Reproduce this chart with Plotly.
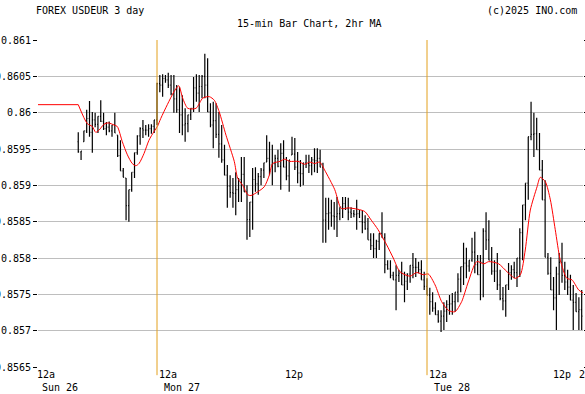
import pandas as pd
import plotly.graph_objects as go

# ---------------- data ----------------
bar_start = "2025-10-26 17:00"
n_bars = 180

highs = [0.85973,0.85947,0.85975,0.86004,0.86016,0.86001,0.86000,0.85995,0.86017,0.86000,
         0.85987,0.85988,0.85983,0.86000,0.85969,0.85962,0.85924,0.85910,0.85894,0.85918,
         0.85945,0.85969,0.85980,0.85990,0.85983,0.85984,0.85984,0.85990,0.86041,0.86052,
         0.86053,0.86052,0.86055,0.86052,0.86052,0.86038,0.86035,0.86024,0.86006,0.85997,
         0.86006,0.86049,0.86053,0.86052,0.86052,0.86081,0.86075,0.86013,0.86015,0.86013,
         0.86001,0.85983,0.85956,0.85928,0.85914,0.85910,0.85918,0.85910,0.85939,0.85939,
         0.85900,0.85877,0.85924,0.85925,0.85917,0.85924,0.85931,0.85969,0.85960,0.85956,
         0.85942,0.85949,0.85958,0.85962,0.85939,0.85935,0.85967,0.85965,0.85946,0.85935,
         0.85931,0.85942,0.85942,0.85939,0.85951,0.85951,0.85949,0.85931,0.85883,0.85883,
         0.85880,0.85877,0.85884,0.85870,0.85884,0.85884,0.85883,0.85870,0.85866,0.85880,
         0.85866,0.85866,0.85859,0.85855,0.85834,0.85834,0.85825,0.85834,0.85863,0.85834,
         0.85797,0.85797,0.85781,0.85790,0.85784,0.85795,0.85781,0.85779,0.85790,0.85807,
         0.85800,0.85795,0.85797,0.85781,0.85772,0.85759,0.85753,0.85739,0.85728,0.85728,
         0.85739,0.85742,0.85749,0.85752,0.85753,0.85779,0.85788,0.85821,0.85814,0.85797,
         0.85828,0.85836,0.85804,0.85804,0.85841,0.85863,0.85852,0.85815,0.85797,0.85807,
         0.85784,0.85760,0.85763,0.85793,0.85790,0.85795,0.85800,0.85841,0.85873,0.85903,
         0.85967,0.86015,0.86000,0.85993,0.85972,0.85935,0.85907,0.85807,0.85801,0.85774,
         0.85788,0.85807,0.85821,0.85795,0.85784,0.85777,0.85763,0.85752,0.85746,0.85756]

lows = [0.85945,0.85935,0.85960,0.85972,0.85967,0.85945,0.85980,0.85972,0.85987,0.85976,
        0.85969,0.85973,0.85967,0.85972,0.85939,0.85920,0.85911,0.85852,0.85850,0.85891,
        0.85910,0.85942,0.85956,0.85965,0.85969,0.85967,0.85971,0.85972,0.85983,0.86028,
        0.86022,0.86041,0.86034,0.86024,0.86000,0.86000,0.85972,0.85969,0.85960,0.85973,
        0.85990,0.86001,0.86015,0.86001,0.86020,0.86020,0.86001,0.85980,0.85951,0.85965,
        0.85938,0.85931,0.85914,0.85869,0.85883,0.85869,0.85859,0.85877,0.85877,0.85891,
        0.85825,0.85829,0.85839,0.85891,0.85887,0.85900,0.85910,0.85932,0.85914,0.85900,
        0.85918,0.85925,0.85894,0.85925,0.85907,0.85891,0.85942,0.85921,0.85903,0.85898,
        0.85900,0.85924,0.85917,0.85914,0.85918,0.85917,0.85925,0.85821,0.85821,0.85839,
        0.85843,0.85839,0.85829,0.85852,0.85855,0.85866,0.85852,0.85855,0.85856,0.85839,
        0.85855,0.85834,0.85839,0.85825,0.85811,0.85800,0.85800,0.85811,0.85828,0.85779,
        0.85784,0.85772,0.85770,0.85728,0.85767,0.85763,0.85739,0.85756,0.85766,0.85772,
        0.85774,0.85779,0.85770,0.85756,0.85749,0.85722,0.85726,0.85722,0.85711,0.85698,
        0.85701,0.85712,0.85722,0.85722,0.85726,0.85739,0.85753,0.85763,0.85772,0.85781,
        0.85795,0.85779,0.85777,0.85742,0.85746,0.85811,0.85797,0.85777,0.85767,0.85756,
        0.85742,0.85728,0.85719,0.85756,0.85770,0.85772,0.85760,0.85774,0.85797,0.85852,
        0.85880,0.85962,0.85939,0.85949,0.85921,0.85880,0.85801,0.85777,0.85756,0.85728,
        0.85701,0.85749,0.85766,0.85756,0.85749,0.85742,0.85701,0.85726,0.85701,0.85701]

closes = [0.85946,0.85947,0.85975,0.85992,0.85973,0.85990,0.85984,0.85995,0.85988,0.85978,
          0.85980,0.85975,0.85983,0.85972,0.85941,0.85920,0.85911,0.85872,0.85894,0.85918,
          0.85945,0.85968,0.85978,0.85976,0.85976,0.85978,0.85981,0.85990,0.86040,0.86038,
          0.86047,0.86045,0.86038,0.86026,0.86019,0.86004,0.85997,0.85983,0.85985,0.85997,
          0.86006,0.86034,0.86027,0.86036,0.86050,0.86038,0.86001,0.85983,0.85989,0.85970,
          0.85957,0.85935,0.85914,0.85899,0.85890,0.85889,0.85894,0.85908,0.85915,0.85891,
          0.85853,0.85877,0.85908,0.85902,0.85912,0.85921,0.85931,0.85937,0.85928,0.85930,
          0.85937,0.85926,0.85944,0.85925,0.85913,0.85935,0.85943,0.85925,0.85917,0.85916,
          0.85931,0.85930,0.85927,0.85935,0.85934,0.85937,0.85925,0.85852,0.85861,0.85862,
          0.85858,0.85857,0.85861,0.85870,0.85875,0.85868,0.85863,0.85861,0.85860,0.85861,
          0.85850,0.85849,0.85840,0.85825,0.85817,0.85813,0.85823,0.85834,0.85828,0.85791,
          0.85785,0.85776,0.85770,0.85776,0.85779,0.85763,0.85768,0.85778,0.85790,0.85787,
          0.85787,0.85784,0.85770,0.85761,0.85749,0.85740,0.85731,0.85722,0.85713,0.85720,
          0.85727,0.85736,0.85737,0.85740,0.85753,0.85771,0.85788,0.85793,0.85789,0.85797,
          0.85808,0.85791,0.85777,0.85794,0.85837,0.85825,0.85797,0.85782,0.85782,0.85763,
          0.85744,0.85741,0.85763,0.85780,0.85784,0.85780,0.85800,0.85835,0.85873,0.85903,
          0.85967,0.85970,0.85971,0.85949,0.85921,0.85880,0.85801,0.85779,0.85756,0.85745,
          0.85778,0.85794,0.85776,0.85767,0.85760,0.85742,0.85739,0.85726,0.85729,0.85720]

opens = [0.85960,0.85946,0.85960,0.85975,0.85992,0.85973,0.85990,0.85984,0.85995,0.85988,
         0.85978,0.85980,0.85975,0.85983,0.85969,0.85941,0.85920,0.85910,0.85872,0.85894,
         0.85918,0.85945,0.85968,0.85978,0.85976,0.85976,0.85978,0.85981,0.85990,0.86040,
         0.86038,0.86047,0.86045,0.86038,0.86026,0.86019,0.86004,0.85997,0.85983,0.85985,
         0.85997,0.86006,0.86034,0.86027,0.86036,0.86050,0.86038,0.86001,0.85983,0.85989,
         0.85970,0.85957,0.85935,0.85914,0.85899,0.85890,0.85889,0.85894,0.85908,0.85915,
         0.85891,0.85853,0.85877,0.85908,0.85902,0.85912,0.85921,0.85932,0.85937,0.85928,
         0.85930,0.85937,0.85926,0.85944,0.85925,0.85913,0.85942,0.85943,0.85925,0.85917,
         0.85916,0.85931,0.85930,0.85927,0.85935,0.85934,0.85937,0.85925,0.85852,0.85861,
         0.85862,0.85858,0.85857,0.85861,0.85870,0.85875,0.85868,0.85863,0.85861,0.85860,
         0.85861,0.85850,0.85849,0.85840,0.85825,0.85817,0.85813,0.85823,0.85834,0.85828,
         0.85791,0.85785,0.85776,0.85770,0.85776,0.85779,0.85763,0.85768,0.85778,0.85790,
         0.85787,0.85787,0.85784,0.85770,0.85761,0.85749,0.85740,0.85731,0.85722,0.85713,
         0.85720,0.85727,0.85736,0.85737,0.85740,0.85753,0.85771,0.85788,0.85793,0.85789,
         0.85797,0.85808,0.85791,0.85777,0.85794,0.85837,0.85825,0.85797,0.85782,0.85782,
         0.85763,0.85744,0.85741,0.85763,0.85780,0.85784,0.85780,0.85800,0.85835,0.85873,
         0.85903,0.85967,0.85970,0.85971,0.85949,0.85921,0.85880,0.85801,0.85779,0.85756,
         0.85745,0.85778,0.85794,0.85776,0.85767,0.85760,0.85742,0.85739,0.85726,0.85729]

# 2hr moving average
ma_flat_times = ["2025-10-26 13:25", "2025-10-26 17:00"]
ma_flat_values = [0.86011, 0.86011]
ma_times = ["2025-10-26 17:00","2025-10-26 17:48","2025-10-26 18:15","2025-10-26 18:33",
            "2025-10-26 18:51","2025-10-26 19:17","2025-10-26 19:39","2025-10-26 20:11","2025-10-26 20:28",
            "2025-10-26 20:55","2025-10-26 21:22","2025-10-26 21:48","2025-10-26 22:07","2025-10-26 22:24",
            "2025-10-26 22:51","2025-10-26 23:17","2025-10-26 23:44","2025-10-27 00:02","2025-10-27 00:20",
            "2025-10-27 00:55","2025-10-27 01:31","2025-10-27 01:56","2025-10-27 02:17","2025-10-27 02:44",
            "2025-10-27 03:28","2025-10-27 04:04","2025-10-27 04:39","2025-10-27 05:06","2025-10-27 05:32",
            "2025-10-27 06:08","2025-10-27 06:52","2025-10-27 07:10","2025-10-27 07:37","2025-10-27 08:04",
            "2025-10-27 08:21","2025-10-27 08:57","2025-10-27 09:32","2025-10-27 09:59","2025-10-27 10:17",
            "2025-10-27 10:56","2025-10-27 11:21","2025-10-27 11:48","2025-10-27 12:32","2025-10-27 13:08",
            "2025-10-27 13:34","2025-10-27 14:01","2025-10-27 14:28","2025-10-27 14:54","2025-10-27 15:48",
            "2025-10-27 16:23","2025-10-27 16:59","2025-10-27 17:52","2025-10-27 18:28","2025-10-27 19:03",
            "2025-10-27 19:39","2025-10-27 20:25","2025-10-27 21:00","2025-10-27 21:36","2025-10-27 22:29",
            "2025-10-27 23:05","2025-10-27 23:40","2025-10-28 00:07","2025-10-28 00:43","2025-10-28 01:18",
            "2025-10-28 01:54","2025-10-28 02:29","2025-10-28 03:05","2025-10-28 03:40","2025-10-28 04:25",
            "2025-10-28 05:04","2025-10-28 05:29","2025-10-28 06:22","2025-10-28 07:07","2025-10-28 07:51",
            "2025-10-28 08:18","2025-10-28 08:44","2025-10-28 09:11","2025-10-28 09:47","2025-10-28 10:04",
            "2025-10-28 10:31","2025-10-28 10:58","2025-10-28 11:24","2025-10-28 11:51","2025-10-28 12:26",
            "2025-10-28 12:53","2025-10-28 13:29","2025-10-28 13:52"]
ma_values = [0.86011,0.85985,0.85981,0.85973,0.85976,0.85984,0.85986,0.85983,0.85981,
             0.85960,0.85942,0.85930,0.85927,0.85930,0.85944,0.85962,0.85974,0.85981,0.85992,
             0.86011,0.86029,0.86037,0.86020,0.86006,0.86006,0.86020,0.86022,0.86017,0.86001,
             0.85969,0.85933,0.85910,0.85900,0.85887,0.85886,0.85891,0.85898,0.85914,0.85930,
             0.85933,0.85936,0.85933,0.85933,0.85929,0.85932,0.85930,0.85932,0.85921,0.85894,
             0.85868,0.85869,0.85867,0.85864,0.85852,0.85839,0.85818,0.85800,0.85781,0.85775,
             0.85780,0.85777,0.85778,0.85763,0.85740,0.85728,0.85726,0.85740,0.85767,0.85795,
             0.85792,0.85795,0.85792,0.85781,0.85772,0.85777,0.85811,0.85866,0.85898,0.85911,
             0.85905,0.85880,0.85839,0.85797,0.85772,0.85770,0.85756,0.85752]

y_ticks = [0.8565, 0.857, 0.8575, 0.858, 0.8585, 0.859, 0.8595, 0.86, 0.8605, 0.861]
y_tick_labels = ["0.8565", "0.857", "0.8575", "0.858", "0.8585", "0.859", "0.8595", "0.86", "0.8605", "0.861"]
day_lines = ["2025-10-27 00:00", "2025-10-28 00:00"]
x_range = ["2025-10-26 13:25:18", "2025-10-28 13:52:00"]

title_left = "FOREX USDEUR 3 day"
title_right = "(c)2025 INO.com"
subtitle = "15-min Bar Chart, 2hr MA"
# (pixel x of label start, line1, line2)
x_labels = [(35.5, "12a", "Sun 26"), (157.5, "12a", "Mon 27"), (283.6, "12p", ""),
            (428, "12a", "Tue 28"), (552, "12p", ""), (577.6, "2p", "")]

# ---------------- figure ----------------
times = pd.date_range(bar_start, periods=n_bars, freq="15min")
FONT = "DejaVu Sans Mono"
W, H = 585, 394
L, R, T, B = 38, 2, 40, 27
pw = W - L - R
ph = H - T - B

fig = go.Figure()
fig.add_trace(go.Ohlc(
    x=times, open=opens, high=highs, low=lows, close=closes,
    increasing=dict(line=dict(color="black", width=1.2)),
    decreasing=dict(line=dict(color="black", width=1.2)),
    tickwidth=0.3, showlegend=False, hoverinfo="skip"))
fig.add_trace(go.Scatter(
    x=ma_flat_times, y=ma_flat_values, mode="lines",
    line=dict(color="#ff0000", width=1), showlegend=False, hoverinfo="skip"))
fig.add_trace(go.Scatter(
    x=ma_times, y=ma_values, mode="lines",
    line=dict(color="#ff0000", width=1, shape="spline", smoothing=0.7),
    showlegend=False, hoverinfo="skip"))

for d in day_lines:
    fig.add_shape(type="line", xref="x", yref="paper", x0=d, x1=d, y0=-0.025, y1=1.0,
                  line=dict(color="#e3a01c", width=1), layer="above")

def px_x(p):
    return (p - L) / pw

def px_y(p):
    return (H - B - p) / ph

ann = []
ann.append(dict(text=title_left, x=px_x(35.4), y=px_y(10.0), xanchor="left", yanchor="middle"))
ann.append(dict(text=title_right, x=px_x(577.6), y=px_y(10.0), xanchor="right", yanchor="middle"))
ann.append(dict(text=subtitle, x=px_x(309.3), y=px_y(23.5), xanchor="center", yanchor="middle"))
for xp, l1, l2 in x_labels:
    ann.append(dict(text=l1, x=px_x(xp), y=px_y(374.5), xanchor="left", yanchor="middle"))
    if l2:
        ann.append(dict(text=l2, x=px_x(xp + 5), y=px_y(387.5), xanchor="left", yanchor="middle"))
for a in ann:
    a.update(xref="paper", yref="paper", showarrow=False, borderpad=0,
             font=dict(family=FONT, size=10, color="black"))

fig.update_layout(
    width=W, height=H, margin=dict(l=L, r=R, t=T, b=B, autoexpand=False),
    paper_bgcolor="white", plot_bgcolor="white",
    annotations=ann,
    xaxis=dict(type="date", range=x_range, showgrid=False, showticklabels=False, automargin=False,
               ticks="", showline=False, zeroline=False, rangeslider=dict(visible=False)),
    yaxis=dict(range=[0.8565, 0.861], tickvals=y_ticks, ticktext=y_tick_labels, automargin=False,
               showgrid=True, gridcolor="#bebebe", gridwidth=1, zeroline=False,
               ticks="outside", ticklen=4, tickcolor="black", mirror="ticks",
               showline=False, tickfont=dict(family=FONT, size=10, color="black")),
)

fig.write_html("out.html", config={"displayModeBar": False},
               post_script="document.body.style.margin='0';document.body.style.overflow='hidden';")
